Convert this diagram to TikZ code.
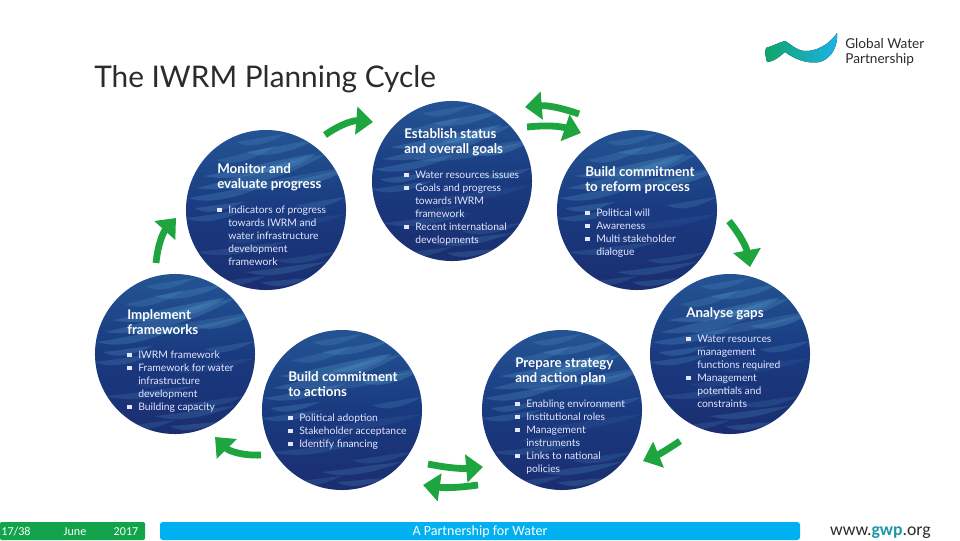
\documentclass[tikz,border=0pt]{standalone}
\usepackage{fontspec}
\setmainfont{Lato}
\newfontfamily\footfont{Carlito}
\usepackage{xcolor}
\usetikzlibrary{arrows.meta,positioning}
\definecolor{waterdeep}{HTML}{1A3A80}
\definecolor{watertop}{HTML}{245494}
\definecolor{waterlow}{HTML}{1A2E70}
\definecolor{waterlight}{HTML}{4F8FC0}
\definecolor{arrowgreen}{HTML}{1FA53F}
\definecolor{titlegray}{HTML}{2B2B2B}
\definecolor{footgreen}{HTML}{12A44A}
\definecolor{footblue}{HTML}{00B0F0}
\definecolor{urlteal}{HTML}{1C97A8}
\definecolor{logogreen}{HTML}{0FA56A}
\definecolor{logoblue}{HTML}{1DB2EA}
\newcommand{\blt}{\makebox[7.8pt][l]{\rule[.12em]{.42em}{.42em}}}
\newcommand{\ind}{\hspace*{7.8pt}}
% same streaks in each disc
\newcommand{\waterstreaks}{%
  \foreach \sx/\sy/\sl/\sr/\so in {-70/-22/130/-34/.3,-62/-34/110/-22/.35,-78/-12/80/-14/.3,-20/-58/70/-12/.3,-40/-22/120/-20/.25,-50/-50/60/-14/.25,-80/8/60/-8/.25,-72/-2/50/-6/.3,-10/16/90/-12/.12,-70/42/90/-10/.2,-20/62/80/-10/.25,-50/72/50/-6/.2,20/-28/60/-12/.35,30/-5/50/-8/.25,10/50/60/-8/.2,-40/30/50/-6/.12,-10/-40/60/-16/.3,-30/-68/50/-8/.25,-5/72/50/-4/.25}
    \fill[waterlight, opacity=\so] (\sx,\sy) .. controls (\sx+\sl*.3,\sy+\sr*.25) and (\sx+\sl*.7,\sy+\sr*.8) .. (\sx+\sl,\sy+\sr)
      .. controls (\sx+\sl*.7,\sy+\sr*.4+3) and (\sx+\sl*.3,\sy+\sr*.1+9) .. cycle;
}
\tikzset{
  disc/.style={circle, minimum size=4cm, inner sep=0pt, top color=watertop, bottom color=waterlow, middle color=waterdeep,
    path picture={\begin{scope}[shift={(path picture bounding box.center)}]\waterstreaks\end{scope}}},
  headtext/.style={anchor=north west, inner sep=0pt, yshift=-.03cm, align=left, text=white, font=\fontsize{9.5}{10.7}\selectfont\bfseries},
  itemtext/.style={anchor=north west, inner sep=0pt, yshift=-.04cm, align=left, text=white!90!blue, font=\fontsize{7.35}{9.25}\selectfont},
  cyclearrow/.style={draw=arrowgreen, line width=.17cm, -{Triangle[length=.42cm,width=.68cm]}},
  footbar/.style={anchor=center, inner sep=0pt, text=white, font=\footfont\fontsize{8.6}{10}\selectfont},
}
\begin{document}
\begin{tikzpicture}[x=.025cm, y=-.025cm]
  \useasboundingbox (0,0) rectangle (960,540);

  \node[anchor=west, inner sep=0pt, text=titlegray, font=\fontsize{21.2}{24}\selectfont] (title) at (94,79) {The IWRM Planning Cycle};

  % logo
  \fill[left color=logogreen, right color=logoblue] (765,53) -- (766,48) .. controls (773,46) and (780,42) .. (785,41)
    .. controls (792,45) and (796,50) .. (804,51) .. controls (816,52) and (830,44) .. (837,33)
    .. controls (838,46) and (832,58) .. (820,62) .. controls (808,64) and (796,60) .. (785,52)
    .. controls (780,56) and (774,62) .. (767,62) -- cycle;
  \node[anchor=west, inner sep=0pt, align=left, text=titlegray, font=\fontsize{9.7}{10.8}\selectfont] (logotext) at (845,52) {Global Water\\Partnership};

  % discs
  \node[disc] (establish) at (452,181) {};
  \node[disc] (monitor) at (266,210) {};
  \node[disc] (reform) at (637,210) {};
  \node[disc] (analyse) at (730,354) {};
  \node[disc] (prepare) at (562,410) {};
  \node[disc] (actions) at (342,410) {};
  \node[disc] (implement) at (175,354) {};

  \node[headtext] (establishhead) at (404,127) {Establish status\\and overall goals};
  \node[itemtext] (establishitems) at (404,169) {\blt Water resources issues\\\blt Goals and progress\\\ind towards IWRM\\\ind framework\\\blt Recent international\\\ind developments};

  \node[headtext] (monitorhead) at (217,162) {Monitor and\\evaluate progress};
  \node[itemtext] (monitoritems) at (217,204) {\blt Indicators of progress\\\ind towards IWRM and\\\ind water infrastructure\\\ind development\\\ind framework};

  \node[headtext] (reformhead) at (585,165) {Build commitment\\to reform process};
  \node[itemtext] (reformitems) at (585,207) {\blt Political will\\\blt Awareness\\\blt Multi stakeholder\\\ind dialogue};

  \node[headtext] (analysehead) at (686,306) {Analyse gaps};
  \node[itemtext] (analyseitems) at (686,333) {\blt Water resources\\\ind management\\\ind functions required\\\blt Management\\\ind potentials and\\\ind constraints};

  \node[headtext] (preparehead) at (515,356) {Prepare strategy\\and action plan};
  \node[itemtext] (prepareitems) at (515,398) {\blt Enabling environment\\\blt Institutional roles\\\blt Management\\\ind instruments\\\blt Links to national\\\ind policies};

  \node[headtext] (actionshead) at (288,370) {Build commitment\\to actions};
  \node[itemtext] (actionsitems) at (288,412) {\blt Political adoption\\\blt Stakeholder acceptance\\\blt Identify financing};

  \node[headtext] (implementhead) at (127,308) {Implement\\frameworks};
  \node[itemtext] (implementitems) at (127,349) {\blt IWRM framework\\\blt Framework for water\\\ind infrastructure\\\ind development\\\blt Building capacity};

  % free arrow ends
  \coordinate (arrAfrom) at (325,135); \coordinate (arrAto) at (373,122);
  \coordinate (arrBfrom) at (527,127); \coordinate (arrBto) at (581,133);
  \coordinate (arrCfrom) at (579,114); \coordinate (arrCto) at (525,107);
  \coordinate (arrDfrom) at (729,221); \coordinate (arrDto) at (750,267);
  \coordinate (arrEfrom) at (680,441); \coordinate (arrEto) at (643,461);
  \coordinate (arrFfrom) at (428,464); \coordinate (arrFto) at (483,467);
  \coordinate (arrGfrom) at (478,485); \coordinate (arrGto) at (423,485);
  \coordinate (arrHfrom) at (261,455); \coordinate (arrHto) at (215,437);
  \coordinate (arrIfrom) at (156,263); \coordinate (arrIto) at (176,218);

  \draw[cyclearrow] (arrAfrom) to[bend left=20] (arrAto);
  \draw[cyclearrow] (arrBfrom) to[bend left=12] (arrBto);
  \draw[cyclearrow] (arrCfrom) to[bend right=12] (arrCto);
  \draw[cyclearrow] (arrDfrom) to[bend left=14] (arrDto);
  \draw[cyclearrow] (arrEfrom) to[bend left=6] (arrEto);
  \draw[cyclearrow] (arrFfrom) to[bend right=8] (arrFto);
  \draw[cyclearrow] (arrGfrom) to[bend left=8] (arrGto);
  \draw[cyclearrow] (arrHfrom) to[bend left=24] (arrHto);
  \draw[cyclearrow] (arrIfrom) to[bend left=18] (arrIto);

  % footer
  \fill[footgreen, rounded corners=1pt] (0,522) rectangle (145,540);
  \fill[footblue, rounded corners=2pt] (160,522) rectangle (800,540);
  \node[footbar] (slideno) at (16,532) {17/38};
  \node[footbar] (month) at (75,532) {June};
  \node[footbar] (year) at (126,532) {2017};
  \node[footbar, font=\footfont\fontsize{10}{11}\selectfont] (motto) at (480,532) {A Partnership for Water};
  \node[anchor=east, inner sep=0pt, text=titlegray, font=\footfont\fontsize{12.6}{14}\selectfont] (url) at (931,533) {www.\textcolor{urlteal}{\textbf{gwp}}.org};
\end{tikzpicture}
\end{document}
